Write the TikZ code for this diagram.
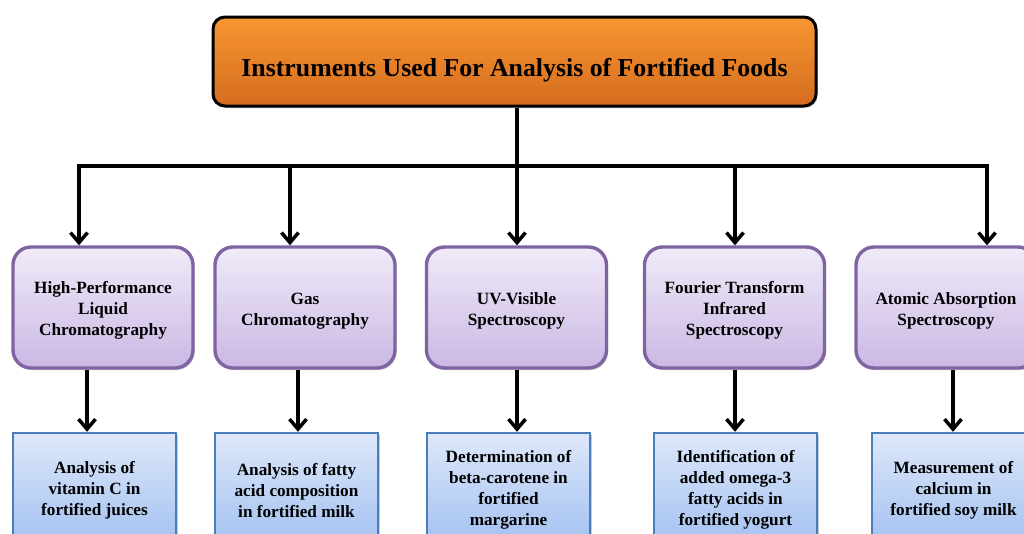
\documentclass[tikz,border=0pt]{standalone}
\usepackage{fontspec}
\setmainfont{Liberation Serif}
\usetikzlibrary{arrows.meta,shadows}
\definecolor{orTop}{RGB}{250,150,50}
\definecolor{orBot}{RGB}{212,108,30}
\definecolor{puTop}{RGB}{240,234,248}
\definecolor{puBot}{RGB}{202,184,228}
\definecolor{puLine}{RGB}{128,100,162}
\definecolor{blTop}{RGB}{222,232,250}
\definecolor{blBot}{RGB}{164,194,241}
\definecolor{blLine}{RGB}{74,126,187}
\newcommand\lowstrut{\rule{0pt}{18.5pt}}
\begin{document}
\begin{tikzpicture}[x=1pt,y=1pt,
  shade/.style={drop shadow={shadow xshift=1.5pt,shadow yshift=-2pt,opacity=0.35,fill=black!60}},
  topbox/.style={draw=black,line width=3pt,rounded corners=12pt,top color=orTop,bottom color=orBot,
    minimum width=603pt,minimum height=89pt,inner sep=0pt,shade,
    font=\fontsize{25.8}{30}\selectfont\bfseries},
  instbox/.style={draw=puLine,line width=3.4pt,rounded corners=18pt,top color=puTop,bottom color=puBot,
    minimum width=180pt,minimum height=121pt,inner sep=0pt,align=center,shade,
    font=\fontsize{17.2}{21}\selectfont\bfseries},
  usebox/.style={draw=blLine,line width=2.4pt,top color=blTop,bottom color=blBot,
    minimum width=163pt,minimum height=108pt,inner sep=0pt,align=center,shade,
    font=\fontsize{17.2}{21}\selectfont\bfseries},
  conn/.style={draw=black,line width=3.5pt},
  arr/.style={conn,-{Straight Barb[length=10pt,width=17pt]}}
]
\useasboundingbox (0,0) rectangle (1024,-533);
\clip (0,0) rectangle (1024,-533);

\node[topbox] (top) at (514.5,-61.5) {\raisebox{-9pt}[\height][\depth]{Instruments Used For Analysis of Fortified Foods}};

\node[instbox] (p1) at (103,-307.5) {\lowstrut High-Performance\\Liquid\\Chromatography};
\node[instbox] (p2) at (305,-307.5) {\lowstrut Gas\\Chromatography};
\node[instbox] (p3) at (516.5,-307.5) {\lowstrut UV-Visible\\Spectroscopy};
\node[instbox] (p4) at (734.5,-307.5) {\lowstrut Fourier Transform\\Infrared\\Spectroscopy};
\node[instbox] (p5) at (946,-307.5) {\lowstrut Atomic Absorption\\Spectroscopy};

\node[usebox] (b1) at (94.5,-487) {\lowstrut Analysis of\\vitamin C in\\fortified juices};
\node[usebox] (b2) at (296.5,-487) {\lowstrut Analysis of fatty\\acid composition\\in fortified milk};
\node[usebox] (b3) at (508.5,-487) {\lowstrut Determination of\\beta-carotene in\\fortified\\margarine};
\node[usebox] (b4) at (735.5,-487) {\lowstrut Identification of\\added omega-3\\fatty acids in\\fortified yogurt};
\node[usebox] (b5) at (953.5,-487) {\lowstrut Measurement of\\calcium in\\fortified soy milk};

\coordinate (bus) at (517,-166);
\coordinate (busL) at (79,-166);
\coordinate (busR) at (987,-166);
\coordinate (xa) at (290,-166);
\coordinate (xb) at (735,-166);
\coordinate (x1) at (87,0);
\coordinate (x2) at (298,0);
\coordinate (x5) at (953,0);
\draw[conn] (top.south -| bus) -- (bus);
\draw[conn] ([xshift=-1.75pt]busL) -- ([xshift=1.75pt]busR);
\draw[arr] ([yshift=1.75pt]busL) -- (busL |- p1.north);
\draw[arr] (xa) -- (xa |- p2.north);
\draw[arr] (bus) -- (bus |- p3.north);
\draw[arr] (xb) -- (xb |- p4.north);
\draw[arr] ([yshift=1.75pt]busR) -- (busR |- p5.north);

\draw[arr] (x1 |- p1.south) -- (x1 |- b1.north);
\draw[arr] (x2 |- p2.south) -- (x2 |- b2.north);
\draw[arr] (bus |- p3.south) -- (bus |- b3.north);
\draw[arr] (xb |- p4.south) -- (xb |- b4.north);
\draw[arr] (x5 |- p5.south) -- (x5 |- b5.north);
\end{tikzpicture}
\end{document}
